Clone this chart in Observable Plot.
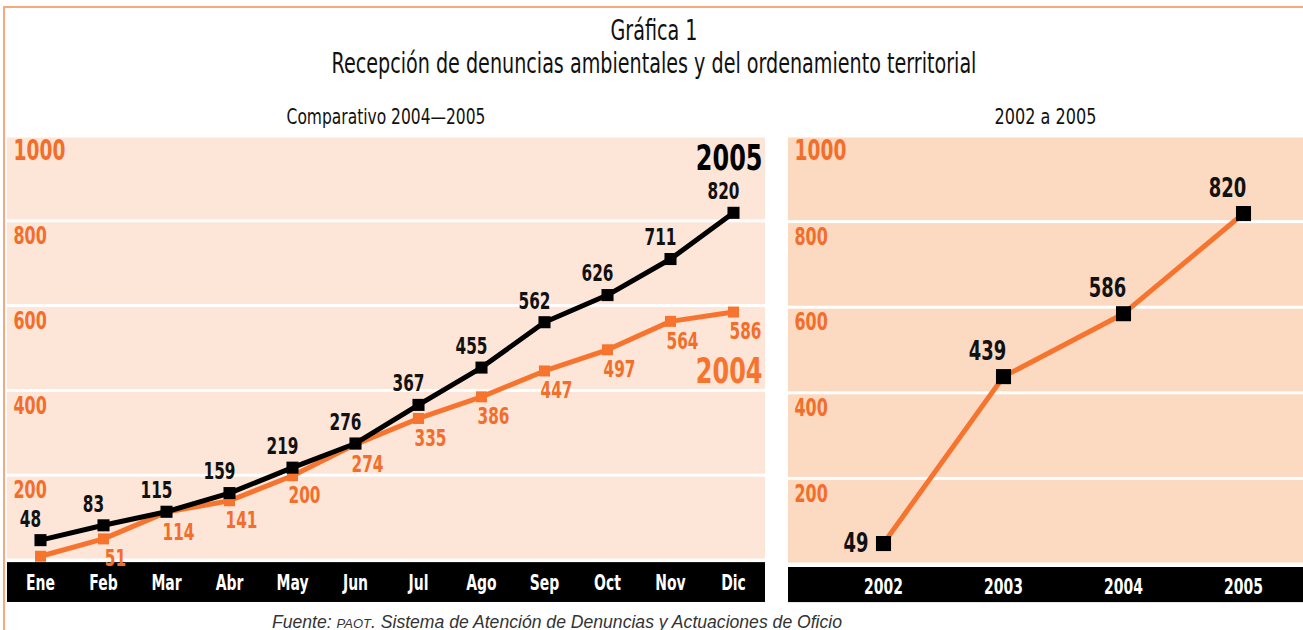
<!DOCTYPE html>
<html><head><meta charset="utf-8">
<script src="https://cdn.jsdelivr.net/npm/d3@7"></script>
<script src="https://cdn.jsdelivr.net/npm/@observablehq/plot@0.6"></script>
<style>
html,body{margin:0;padding:0;background:#fff;}
body{width:1303px;height:630px;overflow:hidden;position:relative;font-family:"DejaVu Sans Condensed","DejaVu Sans",sans-serif;color:#111;}
#ftop{position:absolute;left:3px;top:6px;width:1300px;height:2px;background:#f9a77c;}
#fleft{position:absolute;left:3px;top:6px;width:2px;height:624px;background:#f9a77c;}
.t{position:absolute;text-align:center;white-space:nowrap;transform-origin:50% 50%;}
#title{left:0;width:1308px;top:15px;font-size:28px;line-height:32px;transform:scaleX(0.76);}
#subtitle{left:0;width:1308px;top:48px;font-size:28px;line-height:32px;transform:scaleX(0.76);}
#sub1{left:7px;width:758px;top:104px;font-size:21px;line-height:26px;transform:scaleX(0.82);}
#sub2{left:788px;width:515px;top:104px;font-size:21px;line-height:26px;transform:scaleX(0.85);}
#caption{left:0;width:1114px;top:611px;font-family:"Liberation Sans",sans-serif;font-size:17.6px;line-height:22px;font-style:italic;color:#333;}
#caption .sc{font-size:13px;}
#left{position:absolute;left:7px;top:136px;}
#right{position:absolute;left:788px;top:136px;}
</style></head>
<body>
<div id="ftop"></div><div id="fleft"></div>
<div class="t" id="title">Gráfica 1</div>
<div class="t" id="subtitle">Recepción de denuncias ambientales y del ordenamiento territorial</div>
<div class="t" id="sub1">Comparativo 2004—2005</div>
<div class="t" id="sub2">2002 a 2005</div>
<div id="left"></div>
<div id="right"></div>
<div class="t" id="caption">Fuente: <span class="sc">PAOT</span>. Sistema de Atención de Denuncias y Actuaciones de Oficio</div>
<script>
// ---- data ----
const months = ["Ene","Feb","Mar","Abr","May","Jun","Jul","Ago","Sep","Oct","Nov","Dic"];
const values2004 = [10,51,114,141,200,274,335,386,447,497,564,586];
const values2005 = [48,83,115,159,219,276,367,455,562,626,711,820];
const years = ["2002","2003","2004","2005"];
const totals = [49,439,586,820];
const yTicks = [200,400,600,800,1000];
const seriesNames = ["2004","2005"];

const F = '"DejaVu Sans Condensed","DejaVu Sans",sans-serif';
const ORANGE = "#f7742f";
const LABEL_OR = "#f36e2a";

const d2004 = months.map((m,i)=>({month:m, v:values2004[i]}));
const d2005 = months.map((m,i)=>({month:m, v:values2005[i]}));
const dYears = years.map((y,i)=>({year:y, v:totals[i]}));

const yAxis = () => Plot.axisY(yTicks, {anchor:"left", label:null, tickSize:0, tickPadding:0, textAnchor:"start",
  dx:6, dy:15, fill:LABEL_OR, fontSize:d=>d===1000?28:24, fontWeight:"bold", tickFormat:d=>String(d), fontFamily:F});
const xAxis = () => Plot.axisX({anchor:"bottom", label:null, tickSize:0, tickPadding:15, fill:"#fff", fontSize:21, fontWeight:"bold", fontFamily:F});

// condensed look: squeeze each text horizontally around its own anchor
function condense(svg, s){
  svg.querySelectorAll("text").forEach(t=>{
    const tr = t.getAttribute("transform")||"";
    t.setAttribute("transform", `${tr} scale(${s},1)`);
  });
  return svg;
}

const left = Plot.plot({
  width:758, height:466, marginTop:0, marginBottom:42, marginLeft:0, marginRight:0,
  style:{fontFamily:F, background:"transparent", overflow:"visible"},
  x:{type:"point", domain:months, range:[30,728], padding:0, axis:null},
  y:{domain:[0,1000], axis:null},
  marks:[
    Plot.rect(yTicks, {y1:d=>d-200, y2:d=>d, fill:"#fde5d7", insetTop:1.5, insetBottom:1.5}),
    Plot.rect([0], {y1:()=>-5, y2:()=>-99, fill:"#000"}),
    xAxis(),
    yAxis(),
    Plot.line(d2004, {x:"month", y:"v", stroke:ORANGE, strokeWidth:5}),
    Plot.dot(d2004, {x:"month", y:"v", symbol:"square", r:6.2, fill:ORANGE}),
    Plot.line(d2005, {x:"month", y:"v", stroke:"#000", strokeWidth:5}),
    Plot.dot(d2005, {x:"month", y:"v", symbol:"square", r:6.8, fill:"#000"}),
    Plot.text(d2005, {x:"month", y:"v", text:d=>String(d.v), dx:-10, dy:-21, fontSize:23, fontWeight:"bold", fill:"#111"}),
    Plot.text(d2004.slice(1), {x:"month", y:"v", text:d=>String(d.v), dx:12, dy:20, fontSize:23, fontWeight:"bold", fill:LABEL_OR}),
    Plot.text([seriesNames[1]], {text:d=>d, frameAnchor:"top-right", lineAnchor:"middle", dx:-3, dy:22, fontSize:36, fontWeight:"bold", fill:"#000", textAnchor:"end"}),
    Plot.text([seriesNames[0]], {text:d=>d, frameAnchor:"right", lineAnchor:"middle", dx:-3, dy:23, fontSize:36, fontWeight:"bold", fill:ORANGE, textAnchor:"end"})
  ]
});
document.getElementById("left").appendChild(condense(left, 0.74));

const right = Plot.plot({
  width:515, height:466, marginTop:0, marginBottom:38, marginLeft:0, marginRight:0,
  style:{fontFamily:F, background:"transparent", overflow:"visible"},
  x:{type:"point", domain:years, range:[94,456], padding:0, axis:null},
  y:{domain:[0,1000], axis:null},
  marks:[
    Plot.rect(yTicks, {y1:d=>d-200, y2:d=>d, fill:"#fcd9c1", insetTop:1.5, insetBottom:1.5}),
    Plot.rect([0], {y1:()=>-7, y2:()=>-89, fill:"#000"}),
    xAxis(),
    yAxis(),
    Plot.line(dYears, {x:"year", y:"v", stroke:ORANGE, strokeWidth:5}),
    Plot.dot(dYears, {x:"year", y:"v", symbol:"square", r:8.5, fill:"#000"}),
    Plot.text(dYears.slice(0,1), {x:"year", y:"v", text:d=>String(d.v), dx:-15, textAnchor:"end", fontSize:27, fontWeight:"bold", fill:"#111"}),
    Plot.text(dYears.slice(1), {x:"year", y:"v", text:d=>String(d.v), dx:-16, dy:-25, fontSize:27, fontWeight:"bold", fill:"#111"})
  ]
});
document.getElementById("right").appendChild(condense(right, 0.74));
</script>
</body></html>
